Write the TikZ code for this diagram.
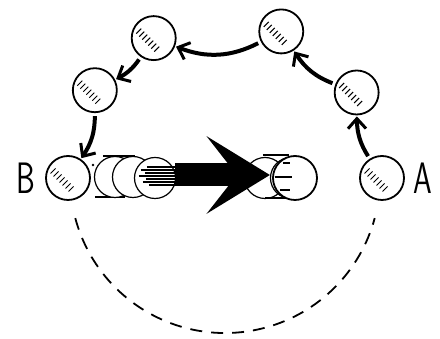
\documentclass[tikz,border=0pt]{standalone}
\usepackage{tikz}
\usetikzlibrary{arrows.meta,positioning}

\newcommand{\hatchball}[1]{%
  \foreach \i in {0,...,6}
    \draw[line width=1pt] ([shift={({-15+3*\i},{7-3*\i})}]#1.center) ++(-2.5,-2.5) -- ++(5,5);}

\begin{document}
\begin{tikzpicture}[x=1pt,y=1pt,
    ball/.style={circle,draw,fill=white,line width=1.8pt,minimum size=44pt,inner sep=0pt},
    ghost/.style={circle,draw,fill=white,line width=1.2pt,minimum size=41pt,inner sep=0pt},
    hop/.style={line width=4pt,-{Straight Barb[length=10pt,width=18pt,line width=3pt]},shorten <=3pt,shorten >=1pt},
    bigarrow/.style={line width=23pt,-{Stealth[length=63pt,width=77pt,inset=30pt]}},
    letter/.style={font=\sffamily\fontsize{44}{44}\selectfont,inner sep=0pt}]
    \useasboundingbox (-225,-161) rectangle (215,178);
    \coordinate (O) at (0,0);
    % balls on the way round
    \node[ball] (a) at (0:157) {};
    \node[ball] (p1) at (33:157) {};
    \node[ball] (p2) at (69:157) {};
    \node[ball] (p3) at (117:157) {};
    \node[ball] (p4) at (146:157) {};
    \node[ball] (b) at (180:157) {};
    \foreach \n in {a,p1,p2,p3,p4,b} {\hatchball{\n}}
    \node[letter,right=8pt of a] {\scalebox{0.68}[1]{A}};
    \node[letter,left=10pt of b] {\scalebox{0.68}[1]{B}};
    \draw[hop] (a) to[bend left=16] (p1);
    \draw[hop] (p1) to[bend left=18] (p2);
    \draw[hop] (p2) to[bend left=24] (p3);
    \draw[hop] (p3) to[bend left=14] (p4);
    \draw[hop] (p4) to[bend left=17] (b);
    % path underneath
    \draw[line width=1.8pt,dash pattern=on 12pt off 9pt] ([shift={(195:155)}]O) arc[start angle=195,end angle=345,radius=155];
    % fast ball straight across
    \draw[line width=1.8pt] (-130,-19) -- (-100,-19);
    \draw[line width=1.2pt] (-122,22) -- (-90,22);
    \fill (-132,13) circle (1.3pt);
    \node[ghost] (g1) at (-110,1) {};
    \node[ghost] (g2) at (-92,1) {};
    \node[ghost] (g3) at (-70,0) {};
    \node[ghost] (h1) at (40,0) {};
    \node[ghost] (h2) at (66,0) {};
    \draw[line width=1.2pt] (38,23) -- (64,23);
    \draw[line width=1.2pt] (40,-20) -- (62,-20);
    \coordinate (tail) at (-50,3);
    \draw[bigarrow] (tail) -- (h2.west |- tail);
    \foreach \y/\s in {11/-78,8/-84,5/-80,2/-86,-1/-79,-4/-82,-7/-76}
      \draw[line width=1.3pt] (\s,\y) -- (-46,\y);
    \node[ball] (m) at (70,0) {};
    \foreach \y/\s/\e in {15/-12/-5,1/-20/-3,-12/-15/-5}
      \draw[line width=1.2pt] ([shift={(\s,\y)}]m.center) -- ([shift={(\e,\y)}]m.center);
\end{tikzpicture}
\end{document}
